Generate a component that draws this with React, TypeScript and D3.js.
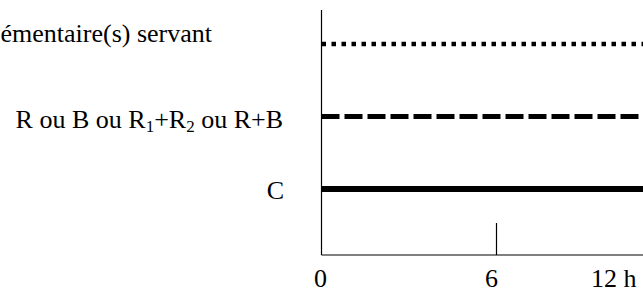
import * as d3 from "d3";

// rows from bottom to top: level on the y scale, label parts, line style
const levels = [1, 2, 3];
const labels = [
  [{ t: "C" }],
  [{ t: "R ou B ou R" }, { t: "1", sub: true }, { t: "+R" }, { t: "2", sub: true }, { t: " ou R+B" }],
  [{ t: "émentaire(s) servant" }],
];
const dashes = ["none", "18 5", "4.5 5.5"];
const widths = [6, 5, 4.5];
const hourTicks = [0, 6, 12];
const hourLabels = ["0", "6", "12 h"];

// label placement (end x, baseline offset from line)
const labelEnd = [284, 283, 212];
const labelDy = [10, 11.5, -2];

const W = 643, H = 290;
const FONT = "'Liberation Serif', 'Times New Roman', serif";
const FS = 26;

export default function App() {
  const x = d3.scaleLinear().domain([0, 12]).range([321.5, 671.5]);
  const y = d3.scaleLinear().domain([0.09, 3.47]).range([255, 10]);
  const x0 = x(0), yb = y(0.09);

  return (
    <svg width={W} height={H} style={{ position: "absolute", left: 0, top: 0, background: "#fff" }}>
      {/* axes */}
      <line x1={x0} x2={x0} y1={y(3.47)} y2={yb} stroke="#000" strokeWidth={1.2} />
      <line x1={x0} x2={W} y1={yb} y2={yb} stroke="#000" strokeWidth={1.2} />
      {hourTicks.filter((h) => h > 0).map((h) => (
        <line key={h} x1={x(h)} x2={x(h)} y1={yb - 32} y2={yb} stroke="#000" strokeWidth={1.2} />
      ))}
      {hourTicks.map((h, i) => (
        <text key={h} x={i === 2 ? 591 : x(h) - (i === 1 ? 5 : 1)} y={287} fontSize={FS} fontFamily={FONT}
          textAnchor={i === 2 ? "start" : "middle"} fill="#000">
          {hourLabels[i]}
        </text>
      ))}
      {/* series lines */}
      {levels.map((v, i) => (
        <line key={v} x1={x0} x2={W} y1={y(v)} y2={y(v)} stroke="#000" strokeWidth={widths[i]}
          strokeDasharray={dashes[i] === "none" ? undefined : dashes[i]} />
      ))}
      {/* labels */}
      {levels.map((v, i) => (
        <text key={`l${v}`} x={labelEnd[i]} y={y(v) + labelDy[i]} textAnchor="end" fontSize={FS} fontFamily={FONT} fill="#000">
          {labels[i].map((p, j) => (
            <tspan key={j} fontSize={p.sub ? 17 : undefined} dy={p.sub ? 4 : j > 0 && labels[i][j - 1].sub ? -4 : undefined}>
              {p.t}
            </tspan>
          ))}
        </text>
      ))}
    </svg>
  );
}
